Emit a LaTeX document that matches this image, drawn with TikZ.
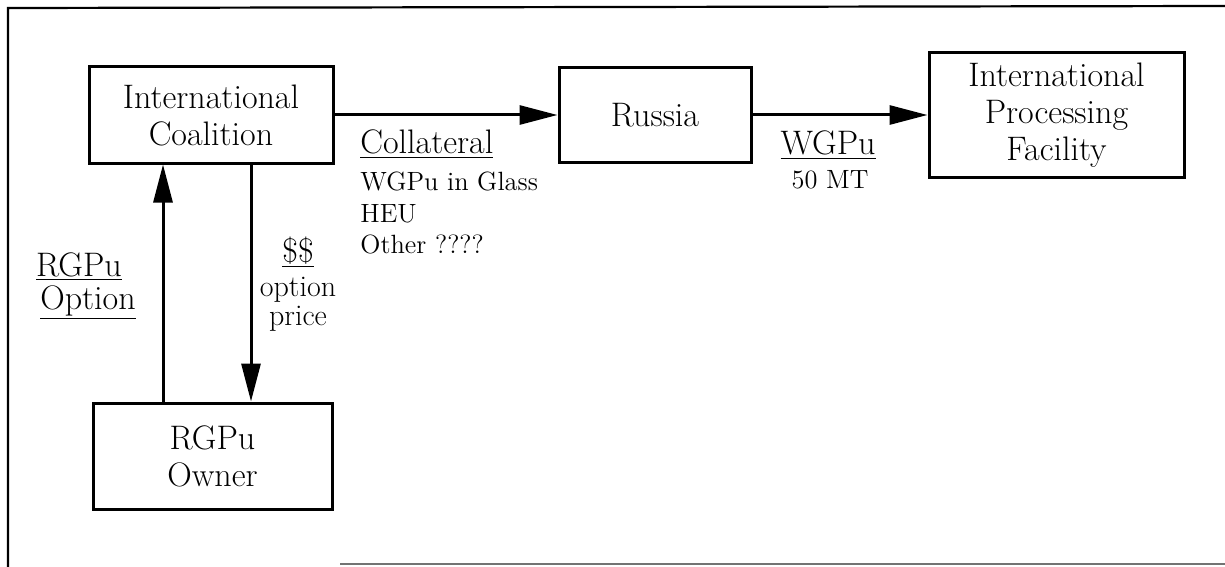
\documentclass[tikz,border=0pt]{standalone}
\usetikzlibrary{arrows.meta}
\begin{document}
\begin{tikzpicture}[x=0.5pt,y=-0.5pt,
  box/.style={draw,line width=1.5pt,align=center,inner sep=0pt,font=\fontsize{17}{18.5}\selectfont},
  arr/.style={line width=1.5pt,-{Triangle[length=19pt,width=9.5pt]}},
  big/.style={font=\fontsize{17}{18.5}\selectfont,inner sep=0pt},
  mid/.style={font=\fontsize{15}{17}\selectfont,inner sep=0pt},
  small/.style={font=\fontsize{13.2}{15}\selectfont,inner sep=0pt},
  frame/.style={line width=1.1pt}]
\useasboundingbox (0,0) rectangle (1225,567);
% frame (cropped)
\draw[frame] (1225,6) -- (8,8) -- (8,567);
\draw[frame,black!55] (340,564) -- (1225,564);
% boxes
\node[box,minimum width=122pt,minimum height=48pt] (coal) at (211,115) {International\\Coalition};
\node[box,minimum width=96pt,minimum height=47.5pt] (russia) at (655,115) {Russia};
\node[box,minimum width=127.5pt,minimum height=62pt] (fac) at (1056.5,115) {International\\Processing\\Facility};
\node[box,minimum width=119.5pt,minimum height=53pt] (owner) at (212.5,456) {RGPu\\Owner};
% connectors
\coordinate (xu) at (163,0);
\coordinate (xd) at (251,0);
\draw[arr] (owner.north -| xu) -- (coal.south -| xu);
\draw[arr] (coal.south -| xd) -- (owner.north -| xd);
\draw[arr] (coal.east) -- (russia.west);
\draw[arr] (russia.east) -- (fac.west);
% labels
\node[big,anchor=base] (l1) at (79,276) {\underline{RGPu}};
\node[big,anchor=base] (l2) at (88,309) {\underline{Option}};
\node[big,anchor=base] (l3) at (298,262) {\underline{\$\$}};
\node[mid,anchor=base] (l4) at (298,296) {option};
\node[mid,anchor=base] (l5) at (298,325) {price};
\node[big,anchor=base west] (l6) at (360,154) {\underline{Collateral}};
\node[small,anchor=base west] (l7) at (360,190) {WGPu in Glass};
\node[small,anchor=base west] (l8) at (360,222) {HEU};
\node[small,anchor=base west] (l9) at (360,253) {Other ????};
\node[big,anchor=base] (l10) at (828,155) {\underline{WGPu}};
\node[small,anchor=base] (l11) at (830,188) {50 MT};
\end{tikzpicture}
\end{document}
